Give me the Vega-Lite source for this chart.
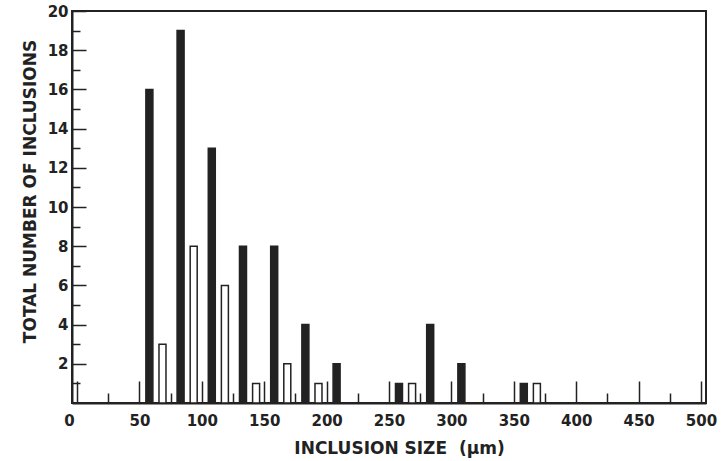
{
  "$schema": "https://vega.github.io/schema/vega-lite/v6.json",
  "width": 634,
  "height": 392,
  "autosize": {"type": "none"},
  "padding": {"left": 72, "top": 11, "right": 18, "bottom": 58},
  "background": "white",
  "config": {
    "view": {"stroke": "#222", "strokeWidth": 2},
    "axis": {
      "grid": false,
      "domainColor": "#222",
      "domainWidth": 2,
      "tickColor": "#222",
      "tickWidth": 1.5,
      "labelFont": "DejaVu Sans",
      "labelFontWeight": "bold",
      "labelFontSize": 15,
      "labelColor": "#222",
      "titleFont": "DejaVu Sans",
      "titleFontWeight": "bold",
      "titleFontSize": 17,
      "titleColor": "#222"
    }
  },
  "data": {
    "values": [
      {"size": 58, "count": 16, "group": "filled"},
      {"size": 83, "count": 19, "group": "filled"},
      {"size": 108, "count": 13, "group": "filled"},
      {"size": 133, "count": 8, "group": "filled"},
      {"size": 158, "count": 8, "group": "filled"},
      {"size": 183, "count": 4, "group": "filled"},
      {"size": 208, "count": 2, "group": "filled"},
      {"size": 258, "count": 1, "group": "filled"},
      {"size": 283, "count": 4, "group": "filled"},
      {"size": 308, "count": 2, "group": "filled"},
      {"size": 358, "count": 1, "group": "filled"},
      {"size": 68.5, "count": 3, "group": "open"},
      {"size": 93.5, "count": 8, "group": "open"},
      {"size": 118.5, "count": 6, "group": "open"},
      {"size": 143.5, "count": 1, "group": "open"},
      {"size": 168.5, "count": 2, "group": "open"},
      {"size": 193.5, "count": 1, "group": "open"},
      {"size": 268.5, "count": 1, "group": "open"},
      {"size": 368.5, "count": 1, "group": "open"}
    ]
  },
  "mark": {"type": "bar", "width": 7, "stroke": "#222", "strokeWidth": 1.5},
  "encoding": {
    "x": {
      "field": "size",
      "type": "quantitative",
      "scale": {"domain": [0, 500], "nice": false},
      "axis": {
        "title": "INCLUSION SIZE \u00a0(µm)",
        "values": [0, 25, 50, 75, 100, 125, 150, 175, 200, 225, 250, 275, 300, 325, 350, 375, 400, 425, 450, 475, 500],
        "labelExpr": "datum.value % 50 === 0 ? datum.label : ''",
        "tickSize": {"condition": {"test": "datum.value % 50 === 0", "value": -22}, "value": -10},
        "labelOffset": {"condition": {"test": "datum.value === 0", "value": -8}, "value": 0},
        "labelPadding": 32,
        "titlePadding": 12,
        "titleX": 327
      }
    },
    "y": {
      "field": "count",
      "type": "quantitative",
      "scale": {"domain": [0, 20], "nice": false},
      "axis": {
        "title": "TOTAL NUMBER OF INCLUSIONS",
        "values": [1, 2, 3, 4, 5, 6, 7, 8, 9, 10, 11, 12, 13, 14, 15, 16, 17, 18, 19, 20],
        "labelExpr": "datum.value % 2 === 0 ? datum.label : ''",
        "tickSize": {"condition": {"test": "datum.value % 2 === 0", "value": -14}, "value": -8},
        "labelPadding": 18,
        "titlePadding": 8,
        "titleY": 180
      }
    },
    "fill": {
      "field": "group",
      "type": "nominal",
      "scale": {"domain": ["filled", "open"], "range": ["#222", "white"]},
      "legend": null
    }
  }
}
